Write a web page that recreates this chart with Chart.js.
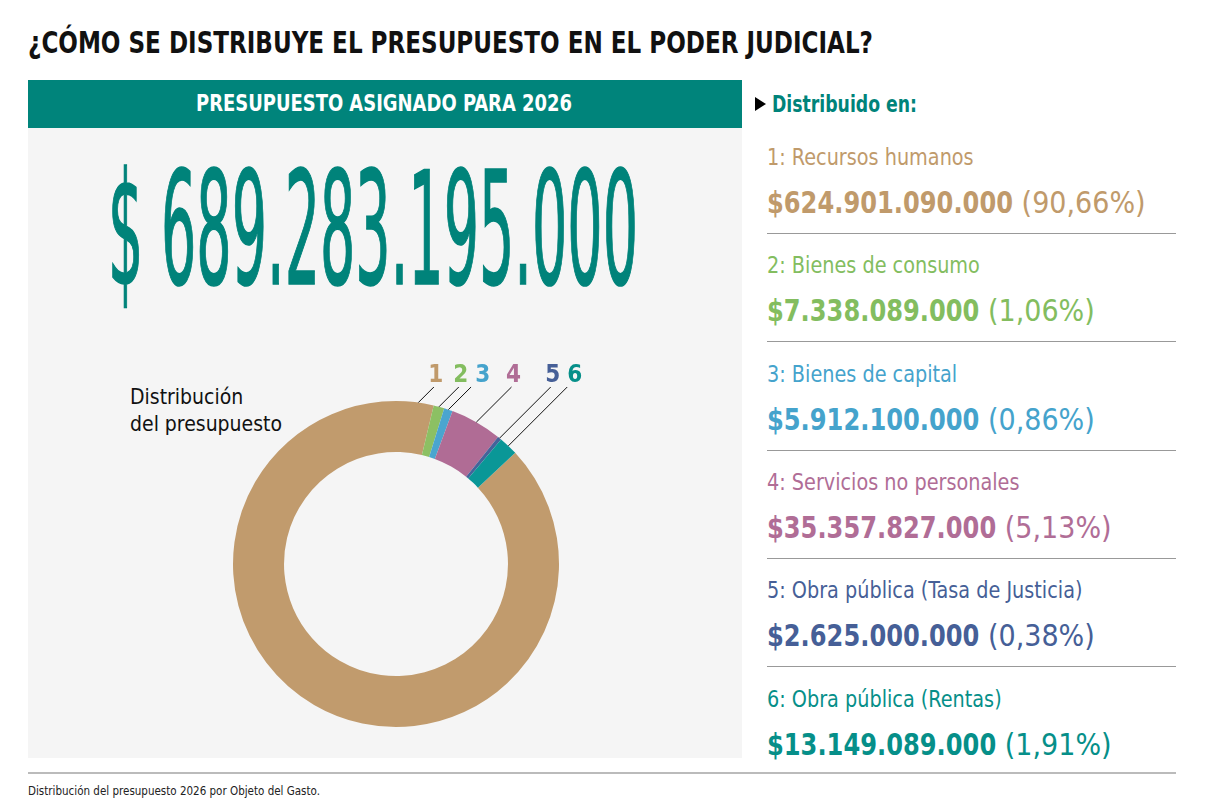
<!DOCTYPE html>
<html lang="es">
<head>
<meta charset="utf-8">
<script src="https://cdn.jsdelivr.net/npm/chart.js@4"></script>
<style>
  body { margin: 0; width: 1206px; height: 812px; background: #fff; position: relative; overflow: hidden;
         font-family: "Liberation Sans Narrow", "DejaVu Sans Condensed", "Roboto", sans-serif; }
  .abs { position: absolute; white-space: nowrap; }
  .fit { transform-origin: left center; }
  #titulo { left: 28px; top: 24px; font-size: 31px; font-weight: bold; color: #111; }
  #barra { left: 28px; top: 80px; width: 714px; height: 48px; background: #00847b; }
  #barra-txt { left: 196px; top: 90px; font-size: 23px; font-weight: bold; color: #fff; }
  #panel { left: 28px; top: 128px; width: 714px; height: 630px; background: #f5f5f5; }
  #total { left: 108px; top: 152px; font-size: 156px; color: #00837a; line-height: 1;
           -webkit-text-stroke: 1.6px #00837a; }
  #dist { left: 130px; top: 384px; font-size: 21px; color: #111; line-height: 27px; }
  #chart-box { left: 196px; top: 350px; width: 400px; height: 400px; }
  #tri { left: 755px; top: 97px; width: 0; height: 0; border-top: 7px solid transparent;
         border-bottom: 7px solid transparent; border-left: 11px solid #000; }
  #dist-en { left: 772px; top: 91px; font-size: 23px; font-weight: bold; color: #00837a; }
  .item-lab { font-size: 23px; transform-origin: left center; }
  .item-val { font-size: 30px; }
  .item-val b { font-weight: bold; display: inline-block; transform-origin: left center; }
  .sep { position: absolute; left: 767px; width: 409px; height: 1px; background: #999; }
  #pie-regla { left: 28px; top: 772px; width: 1148px; height: 2px; background: #bbb; }
  #nota { left: 28px; top: 783px; font-size: 13px; color: #222; }
</style>
</head>
<body>
<div id="titulo" class="abs fit">¿CÓMO SE DISTRIBUYE EL PRESUPUESTO EN EL PODER JUDICIAL?</div>
<div id="barra" class="abs"></div>
<div id="barra-txt" class="abs fit">PRESUPUESTO ASIGNADO PARA 2026</div>
<div id="panel" class="abs"></div>
<div id="total" class="abs fit">$ 689.283.195.000</div>
<div id="dist" class="abs">Distribución<br>del presupuesto</div>
<div id="chart-box" class="abs"><canvas id="dona"></canvas></div>
<div id="tri" class="abs"></div>
<div id="dist-en" class="abs fit">Distribuido en:</div>
<div id="lista"></div>
<div id="pie-regla" class="abs"></div>
<div id="nota" class="abs fit">Distribución del presupuesto 2026 por Objeto del Gasto.</div>

<script>
// datos del gráfico
const categorias = ['Recursos humanos', 'Bienes de consumo', 'Bienes de capital',
    'Servicios no personales', 'Obra pública (Tasa de Justicia)', 'Obra pública (Rentas)'];
const montos = [624901090000, 7338089000, 5912100000, 35357827000, 2625000000, 13149089000];
const porcentajes = ['90,66%', '1,06%', '0,86%', '5,13%', '0,38%', '1,91%'];
const coloresSector = ['#c19b6d', '#8cc063', '#4aa5cf', '#b06c95', '#45639a', '#0a9797'];
const coloresTexto = ['#c09a6b', '#83bd5f', '#45a3cc', '#b06d96', '#465f97', '#068f89'];

// formato con puntos de miles
function formatoPesos(n) {
    return '$' + n.toString().replace(/\B(?=(\d{3})+(?!\d))/g, '.');
}

// ajustar ancho de un texto con escala horizontal
function ajustar(el, ancho) {
    if (typeof el === 'string') el = document.getElementById(el);
    el.style.transform = 'scaleX(' + (ancho / el.getBoundingClientRect().width) + ')';
}

// lista de la derecha
const lista = document.getElementById('lista');
const filasY = [144, 252, 361, 469, 577, 686];
categorias.forEach((cat, i) => {
    const y = filasY[i];
    const lab = document.createElement('div');
    lab.className = 'abs item-lab';
    lab.style.left = '767px';
    lab.style.top = y + 'px';
    lab.style.color = coloresTexto[i];
    lab.textContent = (i + 1) + ': ' + cat;
    lista.appendChild(lab);
    lab.style.transform = 'scaleX(0.93)';

    const val = document.createElement('div');
    val.className = 'abs item-val';
    val.style.left = '767px';
    val.style.top = (y + 41) + 'px';
    val.style.color = coloresTexto[i];
    val.innerHTML = '<b>' + formatoPesos(montos[i]) + '</b> (' + porcentajes[i] + ')';
    lista.appendChild(val);
    // negrita más angosta, compensando el espacio
    const b = val.querySelector('b');
    const w = b.getBoundingClientRect().width;
    b.style.transform = 'scaleX(0.895)';
    b.style.marginRight = (-w * 0.105) + 'px';

    if (i < categorias.length - 1) {
        const sep = document.createElement('div');
        sep.className = 'sep';
        sep.style.top = (y + 89) + 'px';
        lista.appendChild(sep);
    }
});

// líneas guía y números sobre la dona
const guias = {
    id: 'guias',
    afterDatasetsDraw(chart) {
        const ctx = chart.ctx;
        const meta = chart.getDatasetMeta(0);
        const yTope = chart.chartArea.top - 14;
        let prevX = -100;
        ctx.save();
        meta.data.forEach((arc, i) => {
            let a = (arc.startAngle + arc.endAngle) / 2;
            if (i === 0) a = arc.endAngle - 5.5 * Math.PI / 180;
            const x0 = arc.x + Math.cos(a) * arc.outerRadius;
            const y0 = arc.y + Math.sin(a) * arc.outerRadius;
            const x1 = x0 + (y0 - yTope);
            ctx.strokeStyle = '#111';
            ctx.lineWidth = 1;
            ctx.beginPath();
            ctx.moveTo(x0, y0);
            ctx.lineTo(x1, yTope);
            ctx.stroke();
            const xt = Math.max(x1 + 2, prevX + 22);
            prevX = xt;
            ctx.fillStyle = coloresTexto[i];
            ctx.font = 'bold 24px "Liberation Sans Narrow", "DejaVu Sans Condensed", sans-serif';
            ctx.textAlign = 'center';
            ctx.textBaseline = 'alphabetic';
            ctx.fillText(String(i + 1), xt, yTope - 5);
        });
        ctx.restore();
    }
};

new Chart(document.getElementById('dona'), {
    type: 'doughnut',
    data: {
        labels: categorias,
        datasets: [{
            data: montos,
            backgroundColor: coloresSector,
            borderWidth: 0
        }]
    },
    options: {
        responsive: true,
        maintainAspectRatio: false,
        animation: false,
        rotation: 47,
        cutout: '68.7%',
        layout: { padding: { top: 51, bottom: 23, left: 37, right: 37 } },
        plugins: { legend: { display: false }, tooltip: { enabled: false } }
    },
    plugins: [guias]
});

ajustar('titulo', 845);
ajustar('barra-txt', 376);
ajustar('total', 530);
ajustar('dist-en', 145);
ajustar('nota', 292);
</script>
</body>
</html>
